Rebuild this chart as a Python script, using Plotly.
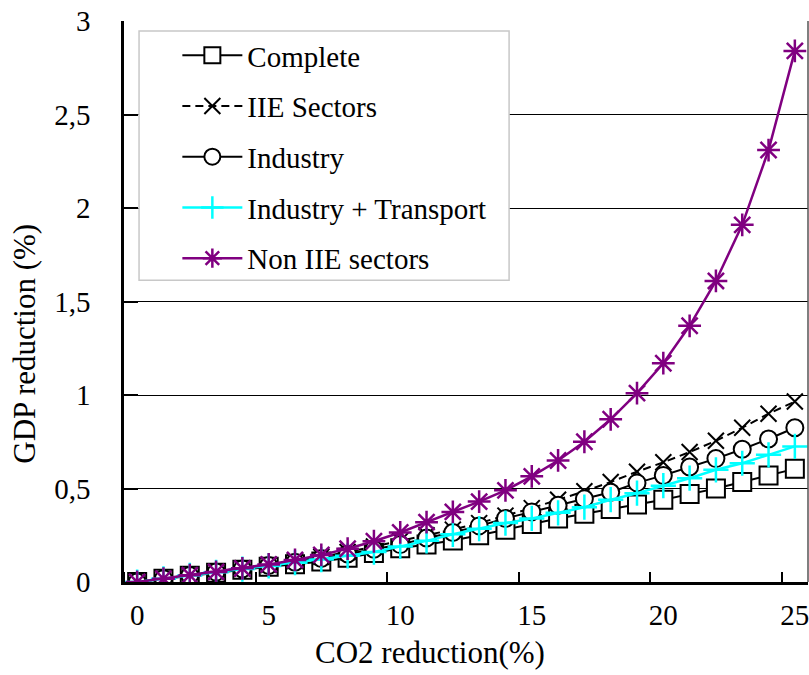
import plotly.graph_objects as go

# ---- data ----
co2_reduction = [0, 1, 2, 3, 4, 5, 6, 7, 8, 9, 10, 11, 12, 13, 14, 15, 16, 17, 18, 19, 20, 21, 22, 23, 24, 25]
complete = [0, 0.017, 0.034, 0.05, 0.066, 0.082, 0.095, 0.11, 0.13, 0.155, 0.18, 0.2, 0.222, 0.25, 0.28,
            0.31, 0.34, 0.365, 0.39, 0.415, 0.44, 0.47, 0.5, 0.535, 0.57, 0.605]
iie_sectors = [0, 0.018, 0.036, 0.054, 0.072, 0.092, 0.112, 0.135, 0.16, 0.19, 0.22, 0.25, 0.28, 0.315, 0.355,
               0.395, 0.44, 0.485, 0.535, 0.59, 0.64, 0.695, 0.755, 0.825, 0.90, 0.965]
industry = [0, 0.018, 0.035, 0.053, 0.07, 0.088, 0.106, 0.126, 0.15, 0.175, 0.2, 0.235, 0.265, 0.3, 0.34,
            0.375, 0.41, 0.445, 0.48, 0.53, 0.57, 0.615, 0.66, 0.71, 0.765, 0.825]
industry_transport = [0, 0.017, 0.035, 0.052, 0.069, 0.086, 0.103, 0.12, 0.14, 0.16, 0.19, 0.22, 0.255, 0.285,
                      0.315, 0.34, 0.37, 0.40, 0.44, 0.475, 0.515, 0.555, 0.60, 0.635, 0.68, 0.725]
non_iie_sectors = [0, 0.018, 0.036, 0.054, 0.073, 0.094, 0.118, 0.145, 0.178, 0.218, 0.265, 0.32, 0.375, 0.43,
                   0.49, 0.565, 0.65, 0.75, 0.87, 1.01, 1.17, 1.37, 1.61, 1.91, 2.31, 2.84]

x_tick_vals = [0, 5, 10, 15, 20, 25]
y_tick_vals = [0, 0.5, 1, 1.5, 2, 2.5, 3]
y_tick_text = ["0", "0,5", "1", "1,5", "2", "2,5", "3"]

FONT = "Liberation Serif, Times New Roman, serif"

fig = go.Figure()

def add(name, y, color, symbol, size, lw, dash="solid", mfill="white", mlw=2):
    fig.add_trace(go.Scatter(
        x=co2_reduction, y=y, name=name, mode="lines+markers",
        line=dict(color=color, width=lw, dash=dash),
        marker=dict(symbol=symbol, size=size, color=mfill, line=dict(color=color, width=mlw)),
        legendgroup=name,
    ))

add("Complete", complete, "black", "square", 18, 2)
add("IIE Sectors", iie_sectors, "black", "x-thin-open", 16, 2, dash="8px,5px", mfill="black")
add("Industry", industry, "black", "circle", 17, 2)
add("Industry + Transport", industry_transport, "#00FFFF", "cross-thin-open", 18, 2.5, mfill="#00FFFF", mlw=2.5)
add("Non IIE sectors", non_iie_sectors, "#800080", "asterisk-open", 19, 2.5, mfill="#800080", mlw=2.5)

fig.update_layout(
    width=809, height=675,
    margin=dict(l=124, r=1, t=21, b=93, autoexpand=False),
    paper_bgcolor="white", plot_bgcolor="white",
    font=dict(family=FONT, size=29, color="black"),
    showlegend=True,
    legend=dict(
        x=0.078, y=0.984, xanchor="left", yanchor="top",
        bgcolor="rgba(0,0,0,0)", borderwidth=0,
        font=dict(family=FONT, size=29, color="black"),
        itemwidth=60, tracegroupgap=10,
    ),
    xaxis=dict(
        range=[-0.5, 25.5], tickmode="array", tickvals=x_tick_vals,
        ticks="", showgrid=False, zeroline=False, automargin=False,
        showline=True, linecolor="black", linewidth=2.5,
        tickfont=dict(family=FONT, size=29), ticklabelstandoff=5,
        ticklabeloverflow="allow",
        minor=dict(tickmode="linear", tick0=4.5, dtick=5, ticks="inside", ticklen=10,
                   tickwidth=2, tickcolor="black", showgrid=False),
    ),
    yaxis=dict(
        range=[0, 3], tickmode="array", tickvals=y_tick_vals, ticktext=y_tick_text,
        ticks="inside", ticklen=14, tickwidth=2, tickcolor="black", automargin=False,
        showgrid=True, gridcolor="black", gridwidth=1, zeroline=False,
        showline=True, linecolor="black", linewidth=2.5,
        tickfont=dict(family=FONT, size=29), ticklabelstandoff=25,
        ticklabeloverflow="allow",
    ),
    shapes=[
        dict(type="rect", xref="paper", yref="paper", x0=0.022, x1=0.563, y0=0.538, y1=0.982,
             line=dict(color="#c8c8c8", width=1.5), fillcolor="white", layer="above"),
        dict(type="line", xref="paper", yref="paper", x0=1, x1=1, y0=0, y1=1,
             line=dict(color="#555555", width=1.5)),
    ],
    annotations=[
        dict(text="CO2 reduction(%)", xref="paper", yref="paper", x=0.447, y=-0.126,
             xanchor="center", yanchor="middle", showarrow=False, font=dict(family=FONT, size=31)),
        dict(text="GDP reduction (%)", xref="paper", yref="paper", x=-0.146, y=0.425,
             xanchor="center", yanchor="middle", textangle=-90, showarrow=False,
             font=dict(family=FONT, size=31)),
    ],
)

fig.write_html("out.html", config={"displayModeBar": False},
               post_script="document.body.style.margin='0px';document.body.style.overflow='hidden';")
